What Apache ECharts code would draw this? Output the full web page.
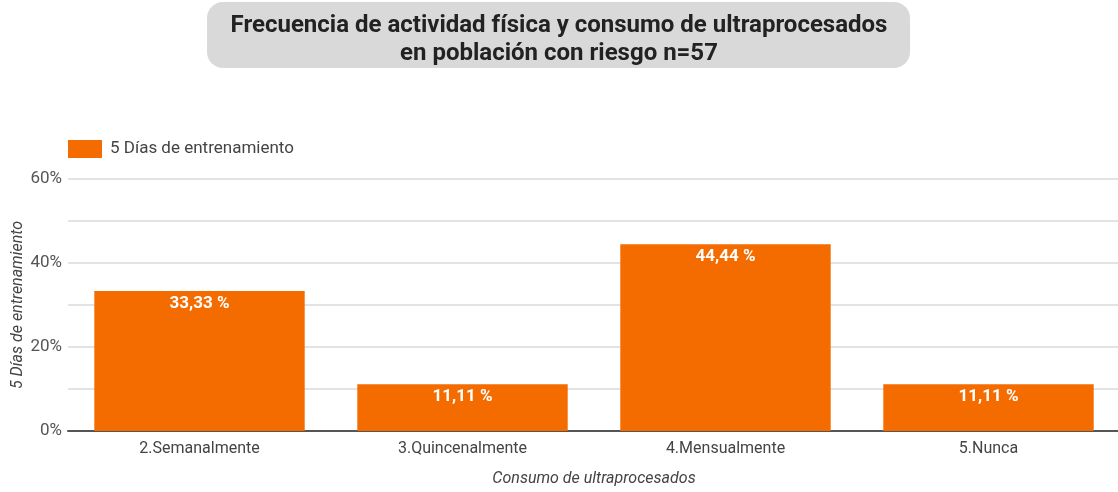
<!DOCTYPE html>
<html>
<head>
<meta charset="utf-8">
<script src="https://cdn.jsdelivr.net/npm/echarts@6/dist/echarts.min.js"></script>
<style>
  html, body { margin: 0; padding: 0; background: #fff; }
  #chart { width: 1118px; height: 492px; }
</style>
</head>
<body>
<div id="chart"></div>
<script>
// data
var categories = ['2.Semanalmente', '3.Quincenalmente', '4.Mensualmente', '5.Nunca'];
var values = [33.33, 11.11, 44.44, 11.11];
var seriesName = '5 Días de entrenamiento';
var yTicks = [0, 20, 40, 60];

var myChart = echarts.init(document.getElementById('chart'));
var option = {
	animation: false,
	textStyle: { fontFamily: 'Roboto' },
	graphic: [
		{
			type: 'rect',
			left: 207, top: 2,
			shape: { width: 703, height: 66, r: 16 },
			style: { fill: '#d9d9d9' },
			z: 0
		},
		{
			type: 'text',
			left: 'center', top: 12,
			style: {
				text: 'Frecuencia de actividad física y consumo de ultraprocesados\nen población con riesgo n=57',
				font: 'bold 24px Roboto',
				fill: '#222',
				textAlign: 'center',
				lineHeight: 28
			},
			z: 1
		}
	],
	legend: {
		left: 68, top: 140,
		padding: 0,
		icon: 'rect',
		itemWidth: 34, itemHeight: 18,
		textStyle: { fontSize: 17, color: '#444', padding: [2, 0, 0, 3] },
		data: [seriesName]
	},
	grid: { left: 68, right: -2, top: 179, bottom: 61, outerBoundsMode: 'none' },
	xAxis: {
		type: 'category',
		data: categories,
		name: 'Consumo de ultraprocesados',
		nameLocation: 'middle',
		nameGap: 40,
		nameMoveOverlap: false,
		nameTextStyle: { fontStyle: 'italic', fontSize: 16, color: '#444' },
		axisLine: { lineStyle: { color: '#555', width: 2 } },
		axisTick: { show: false },
		axisLabel: { fontSize: 16, color: '#444', margin: 10 }
	},
	yAxis: {
		type: 'value',
		min: yTicks[0], max: yTicks[yTicks.length - 1], interval: 20,
		name: seriesName,
		nameLocation: 'middle',
		nameGap: 42,
		nameMoveOverlap: false,
		nameTextStyle: { fontStyle: 'italic', fontSize: 16, color: '#444' },
		axisLine: { show: false },
		axisTick: { show: false },
		axisLabel: { fontSize: 17, color: '#555', margin: 6, formatter: '{value}%' },
		splitLine: { lineStyle: { color: '#e3e3e3', width: 2 } },
		minorTick: { show: false, splitNumber: 2 },
		minorSplitLine: { show: true, lineStyle: { color: '#e3e3e3', width: 2 } }
	},
	series: [
		{
			name: seriesName,
			type: 'bar',
			data: values,
			barCategoryGap: '20%',
			itemStyle: { color: '#f46b00' },
			label: {
				show: true,
				position: 'insideTop',
				distance: 4,
				color: '#fff',
				fontWeight: 'bold',
				fontSize: 17,
				formatter: function (p) { return p.value.toFixed(2).replace('.', ',') + ' %'; }
			}
		}
	]
};
myChart.setOption(option);
</script>
</body>
</html>
